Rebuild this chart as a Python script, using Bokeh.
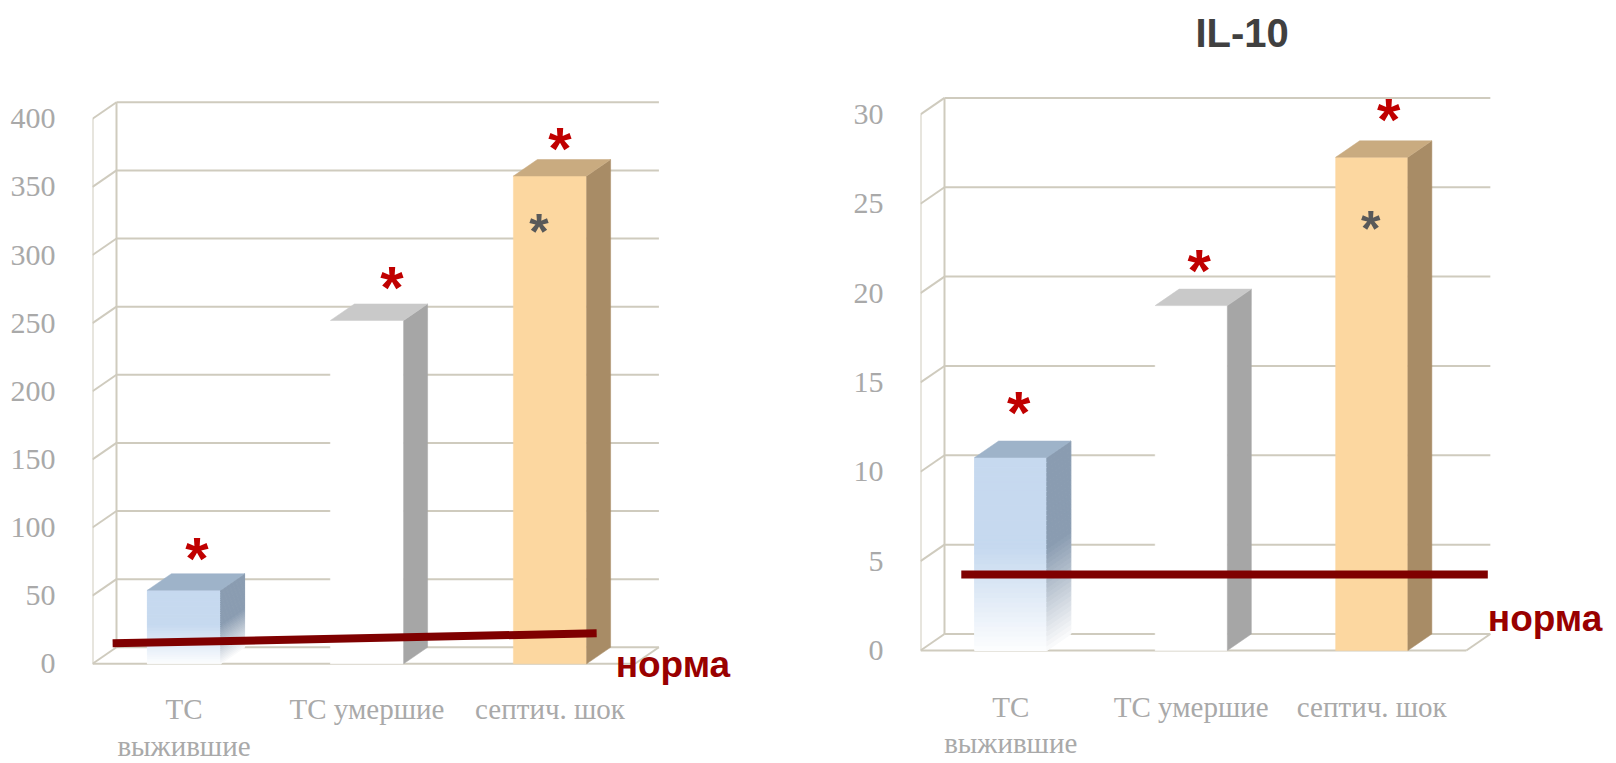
from bokeh.plotting import figure
from bokeh.layouts import row
from bokeh.models import Range1d, FixedTicker
from bokeh.core.properties import value
from bokeh.embed import file_html
from bokeh.resources import INLINE

# ---------------- data ----------------
categories = ["ТС\nвыжившие", "ТС умершие", "септич. шок"]

left_values = [54, 252, 358]
left_ticks = [0, 50, 100, 150, 200, 250, 300, 350, 400]
left_norma = [15, 22.4]          # level of the "норма" line at its start / end

right_title = "IL-10"
right_values = [10.8, 19.3, 27.6]
right_ticks = [0, 5, 10, 15, 20, 25, 30]
right_norma = [4.25, 4.25]

red_star = [True, True, True]    # significance vs norm
grey_star = [False, False, True]  # significance vs TC groups
norma_label = "норма"

# ---------------- style ----------------
W, H, TOP = 808, 763, 62
DX_PX, DY_PX = 24, 16.5
BAR_W = 0.40
GRID = "#cfcbbe"
LABEL_GREY = "#a9a9a9"
bar_front = ["#c6d9ef", "#ffffff", "#fcd7a0"]
bar_top = ["#9eb3c9", "#c9c9c9", "#c9ab80"]
bar_side = ["#8a9cb1", "#a6a6a6", "#a88c66"]
bar_fade = [True, False, False]

LEFT = dict(left=92, ppx=183.0, ppy=1.3625, y0=663.3, wall_right=2.464,
            norma_x=[-0.39, 2.255], star_dx=[13, 25, 10], star_base=[32, 33, 28],
            gstar_dx=-11, gstar_base=56, ntext_dx=19, ntext_dy=31, cat_off=29)
RIGHT = dict(left=112, ppx=180.5, ppy=17.87, y0=650.0, wall_right=2.524,
             norma_x=[-0.274, 2.643], star_dx=[8, 8, 17], star_base=[45.5, 35.5, 37.5],
             gstar_dx=-1, gstar_base=72, ntext_dx=0, ntext_dy=44, cat_off=40)


def mix(c, a):
    r, g, b = int(c[1:3], 16), int(c[3:5], 16), int(c[5:7], 16)
    r = round(255 - (255 - r) * a)
    g = round(255 - (255 - g) * a)
    b = round(255 - (255 - b) * a)
    return "#%02x%02x%02x" % (r, g, b)


def make_chart(values, ticks, norma, L, title=None):
    ppx, ppy = L["ppx"], L["ppy"]
    x_start = -0.5
    x_end = x_start + (W - L["left"]) / ppx
    y_start = (L["y0"] - H) / ppy
    y_end = (L["y0"] - TOP) / ppy
    p = figure(width=W, height=H, x_range=Range1d(x_start, x_end),
               y_range=Range1d(y_start, y_end), x_axis_type=None,
               output_backend="svg", toolbar_location=None,
               min_border_left=L["left"], min_border_right=0,
               min_border_top=TOP, min_border_bottom=0)
    p.outline_line_color = None
    p.grid.visible = False
    p.background_fill_color = "white"
    p.border_fill_color = "white"

    # y axis
    ax = p.yaxis[0]
    ax.ticker = FixedTicker(ticks=ticks)
    ax.axis_line_color = None
    ax.major_tick_line_color = None
    ax.minor_tick_line_color = None
    ax.major_label_standoff = 31
    ax.major_label_text_font = "Liberation Serif"
    ax.major_label_text_font_size = "30px"
    ax.major_label_text_color = LABEL_GREY

    if title:
        p.title.text = title
        p.title.text_font = "Liberation Sans"
        p.title.text_font_style = "bold"
        p.title.text_font_size = "40px"
        p.title.text_color = "#404040"
        p.title.align = "left"
        p.title.offset = 275
        p.title.standoff = 16

    dx, dy = DX_PX / ppx, DY_PX / ppy
    xl, xr = -0.5, L["wall_right"]
    n = len(ticks)
    top = ticks[-1]
    # back wall grid
    p.segment(x0=[xl + dx] * n, y0=[t + dy for t in ticks], x1=[xr + dx] * n,
              y1=[t + dy for t in ticks], line_color=GRID, line_width=2)
    # side wall diagonals
    p.segment(x0=[xl] * n, y0=ticks, x1=[xl + dx] * n,
              y1=[t + dy for t in ticks], line_color=GRID, line_width=2)
    # wall verticals, floor edges
    p.segment(x0=[xl, xl + dx, xl, xr], y0=[0, dy, 0, 0],
              x1=[xl, xl + dx, xr, xr + dx], y1=[top, top + dy, 0, dy],
              line_color=GRID, line_width=2)

    hw = BAR_W / 2
    for i, v in enumerate(values):
        c = i
        fx = [c - hw, c + hw, c + hw, c - hw]
        fy = [0, 0, v, v]
        sx = [c + hw, c + hw + dx, c + hw + dx, c + hw]
        sy = [0, dy, v + dy, v]
        tx = [c - hw, c + hw, c + hw + dx, c - hw + dx]
        ty = [v, v, v + dy, v + dy]
        if bar_fade[i]:
            N = 40
            xs, ys, cols = [], [], []
            for k in range(N):
                a0, a1 = v * k / N, v * (k + 1) / N
                f = (k + 0.5) / N
                alpha = min(1.0, 0.03 + f / 0.55)
                xs += [fx, sx]
                ys += [[a0, a0, a1, a1], [a0, a0 + dy, a1 + dy, a1]]
                cols += [mix(bar_front[i], alpha), mix(bar_side[i], alpha)]
            p.patches(xs=xs, ys=ys, fill_color=cols, line_color=cols, line_width=1)
            p.patch(x=tx, y=ty, fill_color=bar_top[i], line_color=bar_top[i], line_width=0.5)
        else:
            p.patches(xs=[fx, sx, tx], ys=[fy, sy, ty],
                      fill_color=[bar_front[i], bar_side[i], bar_top[i]],
                      line_color=[bar_front[i], bar_side[i], bar_top[i]], line_width=0.5)

    # norm line
    p.line(x=L["norma_x"], y=norma, line_color="#7f0000", line_width=8)
    p.text(x=[L["norma_x"][1] + L["ntext_dx"] / ppx],
           y=[norma[1] - L["ntext_dy"] / ppy], text=[norma_label],
           text_font=value("Liberation Sans"), text_font_style="bold",
           text_font_size="37px", text_color="#990000",
           text_align="left", text_baseline="alphabetic")

    # asterisks
    rx = [i + L["star_dx"][i] / ppx for i, s in enumerate(red_star) if s]
    ry = [values[i] + L["star_base"][i] / ppy for i, s in enumerate(red_star) if s]
    p.text(x=rx, y=ry, text=["*"] * len(rx), text_font=value("Liberation Sans"),
           text_font_style="bold", text_font_size="60px", text_color="#c00000",
           text_align="center", text_baseline="alphabetic")
    gx = [i + L["gstar_dx"] / ppx for i, s in enumerate(grey_star) if s]
    gy = [values[i] - L["gstar_base"] / ppy for i, s in enumerate(grey_star) if s]
    p.text(x=gx, y=gy, text=["*"] * len(gx), text_font=value("Liberation Sans"),
           text_font_style="bold", text_font_size="50px", text_color="#595959",
           text_align="center", text_baseline="alphabetic")

    # category labels
    p.text(x=list(range(len(categories))), y=[-L["cat_off"] / ppy] * len(categories),
           text=categories, text_font=value("Liberation Serif"), text_font_size="29px",
           text_color=LABEL_GREY, text_align="center", text_baseline="top",
           text_line_height=1.15)
    return p


p1 = make_chart(left_values, left_ticks, left_norma, LEFT)
p2 = make_chart(right_values, right_ticks, right_norma, RIGHT, title=right_title)
layout = row(p1, p2, spacing=0)
open("out.html", "w").write(file_html(layout, INLINE))
